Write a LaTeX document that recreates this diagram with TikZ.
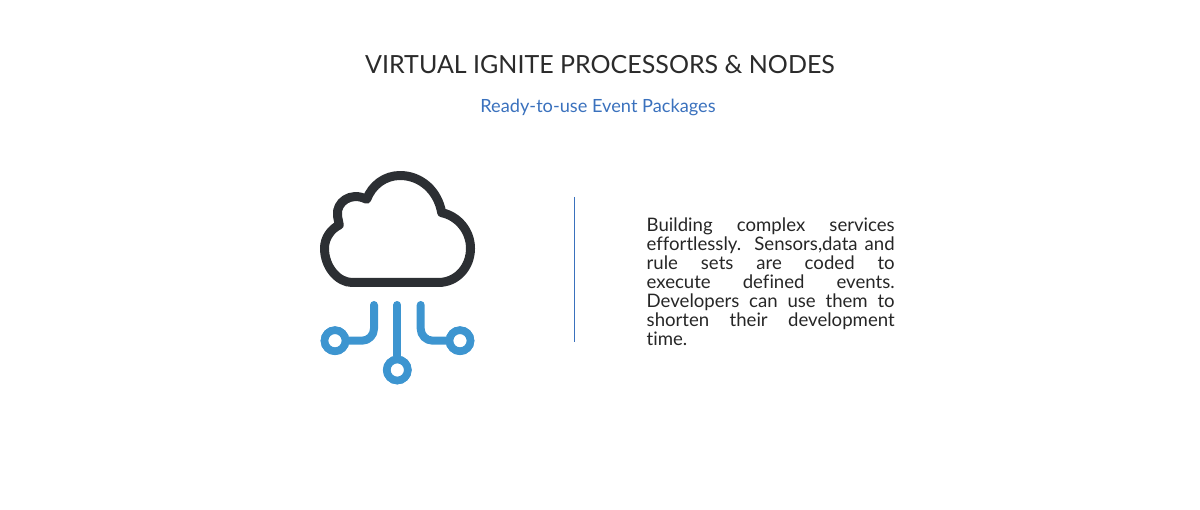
\documentclass[tikz,border=0pt]{standalone}
\usepackage{fontspec}
\setmainfont{Lato}[Ligatures=NoCommon]
\definecolor{cloudc}{HTML}{2C2F33}
\definecolor{chipc}{HTML}{3D95D0}
\definecolor{rulec}{HTML}{3A71BD}
\definecolor{titlec}{HTML}{2B2B2B}
\definecolor{bodyc}{HTML}{262626}
\tikzset{
  pad/.style={circle,draw=chipc,line width=7.6pt,minimum size=21pt,inner sep=0pt,fill=white},
  trace/.style={draw=chipc,line width=8pt,line cap=round,line join=round},
  pic title/.style={font=\fontsize{25}{28}\selectfont,text=titlec,inner sep=0pt},
  pic sub/.style={font=\fontsize{18.2}{22}\selectfont,text=rulec,inner sep=0pt},
  pic body/.style={font=\fontsize{18.6}{19}\selectfont,text=bodyc,inner sep=0pt,text width=248pt,align=justify,anchor=north west},
}
\begin{document}
\begin{tikzpicture}[x=1pt,y=-1pt]
\useasboundingbox (0,0) rectangle (1200,510);
\node[pic title] (title) at (600,65) {VIRTUAL IGNITE PROCESSORS \& NODES};
\node[pic sub] (sub) at (598,107) {Ready-to-use Event Packages};
\draw[cloudc,line width=9pt,line join=round]
 (352,282.5) -- (438.3,282.5)
 .. controls (457,282.5) and (470.5,267) .. (470.5,248.3)
 .. controls (470.5,231) and (458,216) .. (441.7,212.7)
 .. controls (438,191) and (421,175.5) .. (400,175.5)
 .. controls (385,175.5) and (372,185) .. (366.7,199.3)
 .. controls (350,191) and (336,203) .. (337.5,215)
 .. controls (337.6,218) and (338.8,222) .. (339.3,225)
 .. controls (331,229) and (324.5,238) .. (324.5,248.3)
 .. controls (324.5,267) and (338,282.5) .. (352,282.5) -- cycle;
\coordinate (tl) at (374,305);
\coordinate (tm) at (397.3,305);
\coordinate (tr) at (420.7,305);
\node[pad] (pl) at (335,340.7) {};
\node[pad] (pr) at (460,340.7) {};
\node[pad] (pb) at (397.3,370) {};
\draw[trace,rounded corners=12pt] (tl) |- (pl.east);
\draw[trace] (tm) -- (pb.north);
\draw[trace,rounded corners=12pt] (tr) |- (pr.west);
\node[pad] at (pl) {};
\node[pad] at (pr) {};
\node[pad] at (pb) {};
\coordinate (ra) at (574.5,197);
\coordinate (rb) at (574.5,342);
\draw[rulec,line width=1pt] (ra) -- (rb);
\node[pic body] (body) at (646.5,217.5) {Building complex services\linebreak effortlessly. Sensors,data and\linebreak rule sets are coded to\linebreak execute defined events.\linebreak Developers can use them to\linebreak shorten their development\linebreak time.};
\end{tikzpicture}
\end{document}
